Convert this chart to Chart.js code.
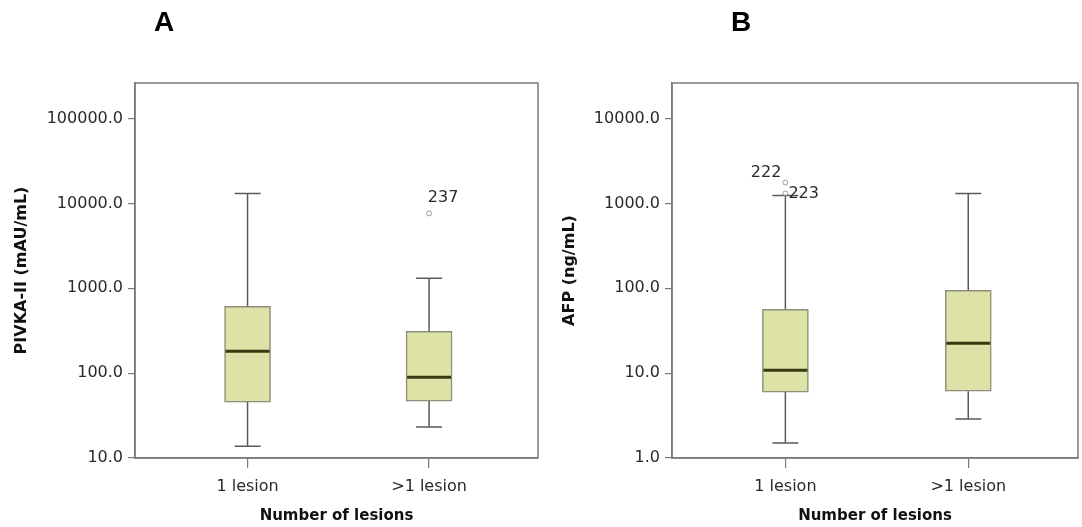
<!DOCTYPE html>
<html>
<head>
<meta charset="utf-8">
<title>PIVKA-II and AFP by number of lesions</title>
<script src="https://cdn.jsdelivr.net/npm/chart.js@4.4.1/dist/chart.umd.min.js"></script>
<style>
    body { margin: 0; background: #fff; }
    #wrap { position: relative; width: 1082px; height: 527px; overflow: hidden; }
    canvas { position: absolute; top: 0; }
    #chartA { left: 0; }
    #chartB { left: 540px; }
    .tag { position: absolute; top: 6px; font: bold 28px "Liberation Sans", Arial, sans-serif; color: #000; }
</style>
</head>
<body>
<div id="wrap">
    <canvas id="chartA" width="545" height="527"></canvas>
    <canvas id="chartB" width="542" height="527"></canvas>
    <div class="tag" style="left:154px">A</div>
    <div class="tag" style="left:731px">B</div>
</div>
<script>
// data
const categories = ["1 lesion", ">1 lesion"]

// PIVKA-II (mAU/mL)
const pivkaMin = [13.8, 23.2]
const pivkaQ1 = [45.6, 46.9]
const pivkaMedian = [181, 89.7]
const pivkaQ3 = [614, 312]
const pivkaMax = [13100, 1312]
const pivkaOutliers = [{ cat: 1, value: 7630, id: "237" }]
const pivkaTicks = [10, 100, 1000, 10000, 100000]

// AFP (ng/mL)
const afpMin = [1.5, 2.88]
const afpQ1 = [5.98, 6.14]
const afpMedian = [10.8, 22.5]
const afpQ3 = [56.6, 94.7]
const afpMax = [1242, 1312]
const afpOutliers = [{ cat: 0, value: 1766, id: "222" }, { cat: 0, value: 1312, id: "223" }]
const afpTicks = [1, 10, 100, 1000, 10000]

// styles
const boxFill = "rgb(221, 226, 166)"
const boxBorder = "#8e8e7c"
const medianColor = "#3a3a12"
const whiskerColor = "#5a5a5a"
const frameColor = "#7a7a7a"
const textColor = "#2a2a2a"
const fontFamily = "'DejaVu Sans', Verdana, sans-serif"
// where each outlier id label sits relative to its marker
const labelPlace = {
    "237": { dx: 14, dy: -16, align: "center" },
    "222": { dx: -4, dy: -10, align: "right" },
    "223": { dx: 3, dy: 0, align: "left" }
}

function main() {
    buildChart("chartA", {
        min: pivkaMin, q1: pivkaQ1, median: pivkaMedian, q3: pivkaQ3, max: pivkaMax,
        outliers: pivkaOutliers, ticks: pivkaTicks, yMin: 10, yMax: 263000,
        yTitle: "PIVKA-II (mAU/mL)", yWidth: 135, titlePad: 12, rightPad: 7
    })
    buildChart("chartB", {
        min: afpMin, q1: afpQ1, median: afpMedian, q3: afpQ3, max: afpMax,
        outliers: afpOutliers, ticks: afpTicks, yMin: 1, yMax: 26300,
        yTitle: "AFP (ng/mL)", yWidth: 132, titlePad: 20, rightPad: 4
    })
}

function boxPlugin(stats) {
    return {
        id: "boxWhisker",
        afterDatasetsDraw(chart) {
            const ctx = chart.ctx
            const xs = chart.scales.x
            const ys = chart.scales.y
            const bars = chart.getDatasetMeta(0).data
            const capHalf = 13
            ctx.save()
            for (let i = 0; i < categories.length; i++) {
                const x = xs.getPixelForValue(i)
                const yMin = ys.getPixelForValue(stats.min[i])
                const yQ1 = ys.getPixelForValue(stats.q1[i])
                const yMed = ys.getPixelForValue(stats.median[i])
                const yQ3 = ys.getPixelForValue(stats.q3[i])
                const yMax = ys.getPixelForValue(stats.max[i])

                ctx.strokeStyle = whiskerColor
                ctx.lineWidth = 1.5
                ctx.beginPath()
                ctx.moveTo(x, yMax); ctx.lineTo(x, yQ3)
                ctx.moveTo(x, yQ1); ctx.lineTo(x, yMin)
                ctx.moveTo(x - capHalf, yMax); ctx.lineTo(x + capHalf, yMax)
                ctx.moveTo(x - capHalf, yMin); ctx.lineTo(x + capHalf, yMin)
                ctx.stroke()

                const half = bars[i].width / 2
                ctx.strokeStyle = medianColor
                ctx.lineWidth = 3
                ctx.beginPath()
                ctx.moveTo(x - half + 1, yMed); ctx.lineTo(x + half - 1, yMed)
                ctx.stroke()
            }

            ctx.font = "16px " + fontFamily
            ctx.textBaseline = "middle"
            for (let o of stats.outliers) {
                const x = xs.getPixelForValue(o.cat)
                const y = ys.getPixelForValue(o.value)
                ctx.strokeStyle = "#9a9a9a"
                ctx.lineWidth = 1
                ctx.beginPath()
                ctx.arc(x, y, 2.5, 0, Math.PI * 2)
                ctx.stroke()
                const p = labelPlace[o.id]
                ctx.fillStyle = textColor
                ctx.textAlign = p.align
                ctx.fillText(o.id, x + p.dx, y + p.dy)
            }

            const a = chart.chartArea
            ctx.strokeStyle = frameColor
            ctx.lineWidth = 1.5
            ctx.strokeRect(a.left, a.top, a.right - a.left, a.bottom - a.top)
            ctx.restore()
        }
    }
}

function buildChart(canvasId, conf) {
    const ctx = document.getElementById(canvasId)

    new Chart(ctx, {
        type: "bar",
        data: {
            datasets: [{
                data: categories.map((c, i) => ({ x: i, y: [conf.q1[i], conf.q3[i]] })),
                backgroundColor: boxFill,
                borderColor: boxBorder,
                borderWidth: 1.5,
                borderSkipped: false,
                barThickness: 46
            }]
        },
        options: {
            responsive: false,
            animation: false,
            devicePixelRatio: 1,
            layout: { padding: { top: 83, right: conf.rightPad, left: 0, bottom: 0 } },
            plugins: { legend: { display: false }, tooltip: { enabled: false } },
            scales: {
                x: {
                    type: "linear",
                    min: -0.62,
                    max: 1.6,
                    offset: false,
                    afterBuildTicks: (scale) => { scale.ticks = categories.map((c, i) => ({ value: i })) },
                    afterFit: (scale) => { scale.height = 69 },
                    ticks: {
                        autoSkip: false,
                        maxRotation: 0,
                        padding: 9,
                        color: textColor,
                        font: { family: fontFamily, size: 16 },
                        callback: (v) => categories[v]
                    },
                    grid: { display: true, offset: false, drawOnChartArea: false, drawTicks: true, tickLength: 10, color: frameColor, lineWidth: 1.2 },
                    border: { display: true, color: frameColor, width: 1.5 },
                    title: {
                        display: true,
                        text: "Number of lesions",
                        color: "#111",
                        font: { family: fontFamily, size: 15, weight: "bold" },
                        padding: { top: 0, bottom: 2 }
                    }
                },
                y: {
                    type: "logarithmic",
                    min: conf.yMin,
                    max: conf.yMax,
                    bounds: "data",
                    afterBuildTicks: (scale) => { scale.ticks = conf.ticks.map(v => ({ value: v })) },
                    afterFit: (scale) => { scale.width = conf.yWidth },
                    ticks: {
                        padding: 5,
                        color: textColor,
                        font: { family: fontFamily, size: 16 },
                        callback: (v) => Number(v).toFixed(1)
                    },
                    grid: { display: true, drawOnChartArea: false, drawTicks: true, tickLength: 7, color: frameColor, lineWidth: 1.2 },
                    border: { display: true, color: frameColor, width: 1.5 },
                    title: {
                        display: true,
                        text: conf.yTitle,
                        color: "#111",
                        font: { family: fontFamily, size: 16, weight: "bold" },
                        padding: { top: conf.titlePad, bottom: 0 }
                    }
                }
            }
        },
        plugins: [boxPlugin(conf)]
    })
}

// listeners
document.addEventListener("DOMContentLoaded", main)
</script>
</body>
</html>
